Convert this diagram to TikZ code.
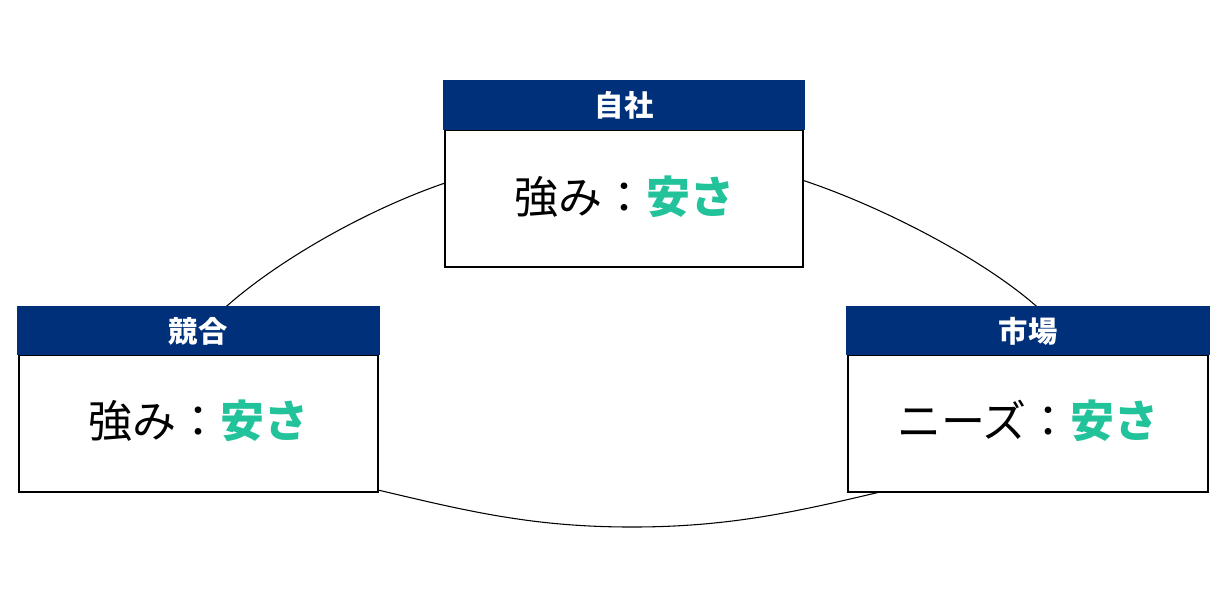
\documentclass[tikz,border=0pt]{standalone}
\usepackage{fontspec}
\setmainfont{Noto Sans CJK JP}
\definecolor{navy}{HTML}{00307A}
\definecolor{mint}{HTML}{22C29A}
\begin{document}
\begin{tikzpicture}[x=0.75pt,y=-0.75pt,
  hdr/.style={fill=navy,draw=navy,text=white,font=\fontsize{22}{22}\selectfont\bfseries},
  bodybox/.style={draw=black,fill=white,line width=0.8pt},
  body/.style={font=\fontsize{33}{33}\selectfont}]
\useasboundingbox (0,0) rectangle (1230,590);
\draw[line width=0.8pt] plot[smooth cycle,tension=0.7] coordinates
 {(628,168) (805,181) (1035,305) (1080,420) (880,492) (628,527) (378,490) (175,420) (228,305) (445,183)};
% top
\draw[bodybox] (445,130) rectangle (803,267);
\fill[navy] (443,80) rectangle (805,130);
\node[hdr,draw=none,fill=none] (h1) at (624,105) {自社};
\node[body] (b1) at (624,197) {強み：\textcolor{mint}{\bfseries 安さ}};
% left
\draw[bodybox] (19,355) rectangle (378,492);
\fill[navy] (17,306) rectangle (380,355);
\node[hdr,draw=none,fill=none] (h2) at (198,331) {競合};
\node[body] (b2) at (198,421) {強み：\textcolor{mint}{\bfseries 安さ}};
% right
\draw[bodybox] (848,355) rectangle (1208,492);
\fill[navy] (846,306) rectangle (1210,355);
\node[hdr,draw=none,fill=none] (h3) at (1028,331) {市場};
\node[body] (b3) at (1028,421) {ニーズ：\textcolor{mint}{\bfseries 安さ}};
\end{tikzpicture}
\end{document}
